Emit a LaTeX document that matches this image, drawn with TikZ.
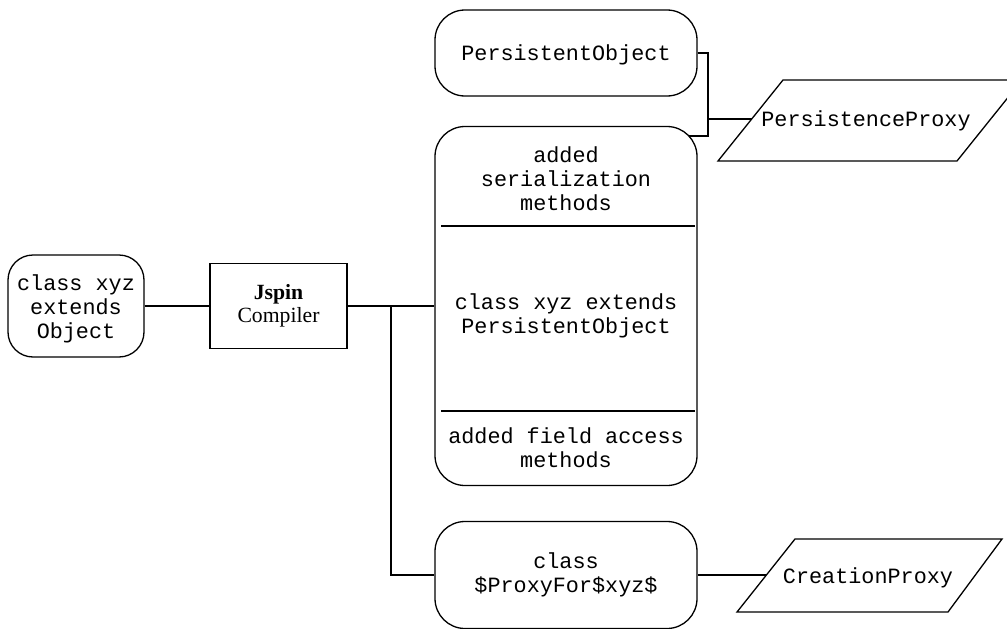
\documentclass[tikz,border=0pt]{standalone}
\usepackage{fontspec}
\setmainfont{Liberation Serif}
\setmonofont{Liberation Mono}
\newcommand\diagmono{\ttfamily\fontsize{21.8}{24}\selectfont}
\newcommand\diagserif{\rmfamily\fontsize{21.7}{23}\selectfont}
\begin{document}
\begin{tikzpicture}[x=1pt,y=-1pt,line width=1.3pt,
  rbox/.style={draw, rounded corners=30pt, inner sep=0pt},
  txt/.style={font=\diagmono, align=center, inner sep=0pt},
  cbox/.style={draw, font=\diagserif, align=center, inner sep=0pt},
  divider/.style={line width=1.3pt}]
\useasboundingbox (0,0) rectangle (1007,629);
\clip (0,0) rectangle (1007,629);

% shapes
\node[rbox, rounded corners=25pt, minimum width=136pt, minimum height=102pt] (src) at (76,306) {};
\node[cbox, minimum width=137pt, minimum height=85pt] (jspin) at (278.5,306) {\textbf{Jspin}\\Compiler};
\node[rbox, minimum width=262pt, minimum height=86pt] (po) at (566,53) {};
\node[rbox, minimum width=262pt, minimum height=359pt] (main) at (566,306) {};
\node[rbox, minimum width=262pt, minimum height=107pt] (proxy) at (566,575) {};

% texts
\node[txt] (srct) at (76,309) {class xyz\\extends\\Object};
\node[txt] (pot) at (566,55) {PersistentObject};
\node[txt] (ser) at (566,179) {added\\serialization\\methods};
\node[txt] (cls) at (566,316) {class xyz extends\\PersistentObject};
\node[txt] (fld) at (566,448) {added field access\\methods};
\node[txt] (proxyt) at (566,575) {class\\\$ProxyFor\$xyz\$};

% dividers inside main box
\draw[divider] (441,226) -- (695,226);
\draw[divider] (441,411) -- (695,411);

% parallelograms
\draw (718,161) -- (783,80) -- (1022,80) -- (957,161) -- cycle;
\node[txt] (pp) at (866,121) {PersistenceProxy};
\draw (737,612) -- (795,539) -- (1002,539) -- (948,612) -- cycle;
\node[txt] (cp) at (868,578) {CreationProxy};

% connector coordinates
\coordinate (ptop) at (708,53);
\coordinate (pmid) at (708,119);
\coordinate (pbot) at (708,136);
\coordinate (mainjoin) at (689,136);
\coordinate (ppleft) at (752,119);
\coordinate (bus) at (391,306);
\coordinate (cpleft) at (766,575);

% connectors
\draw (src.east) -- (jspin.west);
\draw (jspin.east) -- (jspin.east -| main.west);
\draw (bus) |- (proxy.west);
\draw (po.east) -- (ptop) -- (pbot) -- (mainjoin);
\draw (pmid) -- (ppleft);
\draw (proxy.east) -- (cpleft);
\end{tikzpicture}
\end{document}
